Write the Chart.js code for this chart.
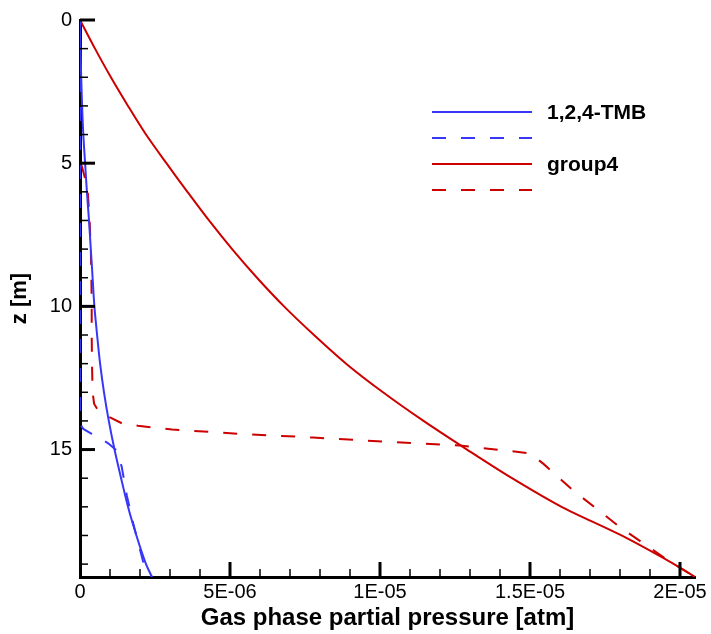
<!DOCTYPE html>
<html>
<head>
<meta charset="utf-8">
<script src="https://cdn.jsdelivr.net/npm/chart.js@4.4.1/dist/chart.umd.min.js"></script>
<style>
  html, body { margin: 0; padding: 0; background: #fff; }
</style>
</head>
<body>
<canvas id="chart" width="711" height="634"></canvas>
<script>
// Depth z [m] and gas phase partial pressure [atm]
const tmbSimZ = [0, 1, 2, 3, 4, 5, 6, 7, 8, 9, 10, 11, 12, 13, 14, 15, 16, 17, 18, 19, 19.45];
const tmbSimP = [0, 0.015e-6, 0.04e-6, 0.07e-6, 0.11e-6, 0.17e-6, 0.23e-6, 0.3e-6, 0.36e-6, 0.42e-6,
  0.48e-6, 0.57e-6, 0.67e-6, 0.8e-6, 0.96e-6, 1.15e-6, 1.37e-6, 1.6e-6, 1.88e-6, 2.2e-6, 2.4e-6];

const tmbDashZ = [0, 14.1, 14.28, 14.45, 14.78, 15.03, 15.6, 16.6, 17.6, 18.9, 19.45];
const tmbDashP = [0, 0, 0.11e-6, 0.39e-6, 0.94e-6, 1.22e-6, 1.39e-6, 1.56e-6, 1.78e-6, 2.1e-6, 2.39e-6];

const grp4SimZ = [0, 1, 2, 3, 4, 5, 6, 7, 8, 9, 10, 11, 12, 13, 14, 15, 16, 17, 18, 19, 19.45];
const grp4SimP = [0, 0.5e-6, 1.03e-6, 1.6e-6, 2.2e-6, 2.88e-6, 3.58e-6, 4.3e-6, 5.07e-6, 5.9e-6,
  6.8e-6, 7.8e-6, 8.87e-6, 10.1e-6, 11.45e-6, 12.9e-6, 14.4e-6, 16.05e-6, 18.05e-6, 19.8e-6, 20.5e-6];

const grp4DashZ = [0, 5.0, 5.1, 5.5, 6, 7, 8, 9, 10, 11, 12, 13, 13.4, 13.65, 13.88, 14.1, 14.17,
  14.3, 14.45, 14.58, 14.72, 14.86, 15.13, 15.5, 16.42, 17.71, 18.85, 19.45];
const grp4DashP = [0, 0, 0.06e-6, 0.16e-6, 0.26e-6, 0.32e-6, 0.36e-6, 0.38e-6, 0.39e-6, 0.39e-6,
  0.4e-6, 0.42e-6, 0.47e-6, 0.61e-6, 1.0e-6, 1.43e-6, 1.93e-6, 3.07e-6, 5.33e-6, 7.77e-6,
  10.1e-6, 12.67e-6, 15.0e-6, 15.45e-6, 16.43e-6, 18.0e-6, 19.57e-6, 20.5e-6];

const seriesLabels = ['1,2,4-TMB', '', 'group4', ''];

const xTickValues = [0, 5e-6, 1e-5, 1.5e-5, 2e-5];
const xTickLabels = ['0', '5E-06', '1E-05', '1.5E-05', '2E-05'];
const yTickValues = [0, 5, 10, 15];
const yTickLabels = ['0', '5', '10', '15'];

const X_MAX = 2.05e-5;
const Y_MAX = 19.45;

const BLUE = 'rgb(55, 55, 250)';
const RED = 'rgb(205, 0, 0)';
const DASH = [14, 15];
const FONT = "'Liberation Sans', Arial, Helvetica, sans-serif";

Chart.defaults.font.family = FONT;
Chart.defaults.color = '#000';

function toPoints(zs, ps) {
  return zs.map((z, i) => ({ x: ps[i], y: z }));
}

// Inward pointing major and minor tick marks, like the original plot
const tickMarks = {
  id: 'tickMarks',
  afterDraw(chart) {
    const { ctx, chartArea: area, scales: { x, y } } = chart;
    ctx.save();
    ctx.strokeStyle = '#000';
    ctx.lineCap = 'butt';

    const stroke = (x1, y1, x2, y2, w) => {
      ctx.lineWidth = w;
      ctx.beginPath();
      ctx.moveTo(x1, y1);
      ctx.lineTo(x2, y2);
      ctx.stroke();
    };

    for (let i = 1; i <= 20; i++) {
      const v = i * 1e-6;
      if (v > X_MAX) break;
      const px = x.getPixelForValue(v);
      const major = i % 5 === 0;
      stroke(px, area.bottom, px, area.bottom - (major ? 15 : 8), major ? 3 : 1.5);
    }
    for (let i = 0; i <= 19; i++) {
      const py = y.getPixelForValue(i);
      const major = i % 5 === 0;
      stroke(area.left, py, area.left + (major ? 15 : 8), py, major ? 3 : 1.5);
    }
    ctx.restore();
  }
};

// Legend block in the upper right of the plot
const lineLegend = {
  id: 'lineLegend',
  afterDraw(chart) {
    const { ctx } = chart;
    const left = 432, top = 112, rowGap = 26, lineLen = 100;
    ctx.save();
    chart.data.datasets.forEach((ds, i) => {
      const yy = top + i * rowGap;
      ctx.strokeStyle = ds.borderColor;
      ctx.lineWidth = 2;
      ctx.setLineDash(ds.borderDash || []);
      ctx.beginPath();
      ctx.moveTo(left, yy);
      ctx.lineTo(left + lineLen, yy);
      ctx.stroke();
      ctx.setLineDash([]);
      if (ds.label) {
        ctx.fillStyle = '#000';
        ctx.font = 'bold 21px ' + FONT;
        ctx.textBaseline = 'middle';
        ctx.fillText(ds.label, left + lineLen + 15, yy + 1);
      }
    });
    ctx.restore();
  }
};

new Chart(document.getElementById('chart'), {
  type: 'line',
  data: {
    datasets: [
      { label: seriesLabels[0], data: toPoints(tmbSimZ, tmbSimP), borderColor: BLUE, borderWidth: 2, tension: 0.3 },
      { label: seriesLabels[1], data: toPoints(tmbDashZ, tmbDashP), borderColor: BLUE, borderWidth: 2, borderDash: DASH },
      { label: seriesLabels[2], data: toPoints(grp4SimZ, grp4SimP), borderColor: RED, borderWidth: 2, tension: 0.3 },
      { label: seriesLabels[3], data: toPoints(grp4DashZ, grp4DashP), borderColor: RED, borderWidth: 2, borderDash: DASH }
    ]
  },
  options: {
    responsive: false,
    animation: false,
    layout: { padding: { top: 17, right: 16, left: 0, bottom: 0 } },
    elements: { point: { radius: 0 }, line: { tension: 0, fill: false } },
    plugins: { legend: { display: false }, tooltip: { enabled: false } },
    scales: {
      x: {
        type: 'linear',
        min: 0,
        max: X_MAX,
        z: 1,
        grid: { display: false, drawTicks: false },
        border: { display: true, color: '#000', width: 3 },
        ticks: {
          padding: 3,
          autoSkip: false,
          maxRotation: 0,
          font: { size: 20 },
          callback: (v, i) => xTickLabels[i]
        },
        title: {
          display: true,
          text: 'Gas phase partial pressure [atm]',
          font: { size: 24, weight: 'bold' },
          padding: { top: 0, bottom: 1 }
        },
        afterBuildTicks: scale => { scale.ticks = xTickValues.map(v => ({ value: v })); },
        afterFit: scale => { scale.height = 57; }
      },
      y: {
        type: 'linear',
        reverse: true,
        min: 0,
        max: Y_MAX,
        z: 1,
        grid: { display: false, drawTicks: false },
        border: { display: true, color: '#000', width: 3 },
        ticks: {
          padding: 8,
          autoSkip: false,
          font: { size: 20 },
          callback: (v, i) => yTickLabels[i]
        },
        title: {
          display: true,
          text: 'z [m]',
          font: { size: 22, weight: 'bold' },
          padding: { top: 7, bottom: 0 }
        },
        afterBuildTicks: scale => { scale.ticks = yTickValues.map(v => ({ value: v })); },
        afterFit: scale => { scale.width = 80; }
      }
    }
  },
  plugins: [tickMarks, lineLegend]
});
</script>
</body>
</html>
